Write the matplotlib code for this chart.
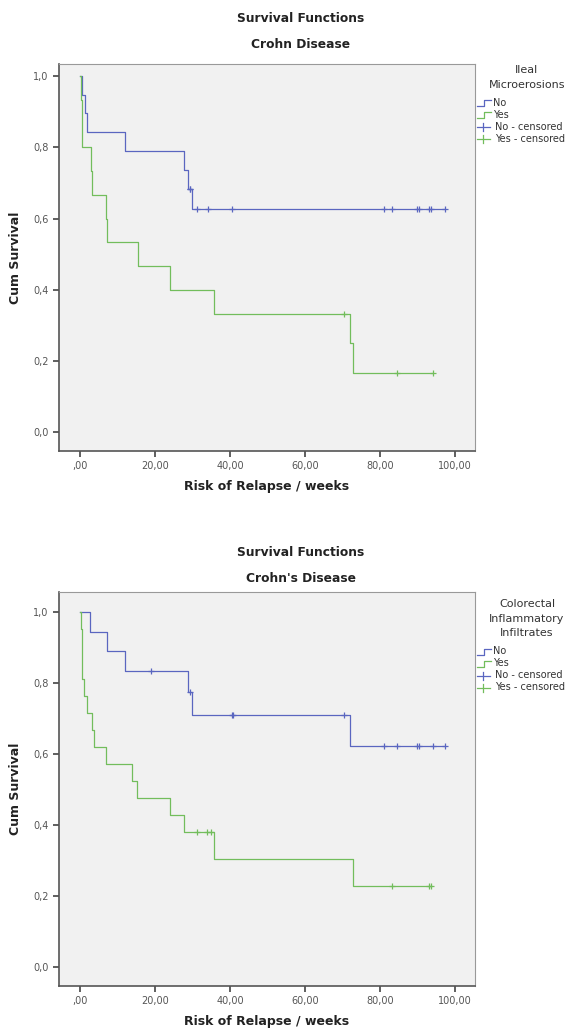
import matplotlib
matplotlib.use("Agg")
import matplotlib.pyplot as plt
from matplotlib.lines import Line2D
from matplotlib.ticker import FixedLocator, FixedFormatter

plt.rcParams["font.family"] = ["DejaVu Sans"]

# ---------------------------------------------------------------------------
# Data (Kaplan-Meier steps, censor marks)
# ---------------------------------------------------------------------------

# Top panel: Ileal Microerosions
top_no_t = [0.0, 0.4, 1.3, 1.8, 12.0, 27.7, 28.9, 29.9, 97.3]
top_no_s = [1.0, 0.947, 0.895, 0.842, 0.789, 0.737, 0.684, 0.627, 0.627]
top_no_cens_t = [29.2, 29.4, 31.1, 34.1, 40.4, 81.1, 83.2, 89.9, 90.4, 93.1, 93.5, 97.3]
top_no_cens_s = [0.684, 0.684, 0.627, 0.627, 0.627, 0.627, 0.627, 0.627, 0.627, 0.627, 0.627, 0.627]

top_yes_t = [0.0, 0.2, 0.5, 2.8, 3.3, 6.8, 7.2, 15.4, 24.1, 35.8, 71.9, 72.7, 94.0]
top_yes_s = [1.0, 0.933, 0.8, 0.733, 0.667, 0.6, 0.533, 0.467, 0.4, 0.333, 0.25, 0.167, 0.167]
top_yes_cens_t = [70.5, 84.6, 94.0]
top_yes_cens_s = [0.333, 0.167, 0.167]

# Bottom panel: Colorectal Inflammatory Infiltrates
bot_no_t = [0.0, 2.7, 7.2, 12.0, 28.9, 29.9, 72.0, 97.3]
bot_no_s = [1.0, 0.944, 0.889, 0.833, 0.774, 0.709, 0.621, 0.621]
bot_no_cens_t = [18.9, 29.3, 40.4, 40.9, 70.4, 81.1, 84.6, 89.9, 90.4, 94.0, 97.3]
bot_no_cens_s = [0.833, 0.774, 0.709, 0.709, 0.709, 0.621, 0.621, 0.621, 0.621, 0.621, 0.621]

bot_yes_t = [0.0, 0.2, 0.4, 1.0, 1.8, 3.3, 3.8, 6.8, 13.9, 15.3, 24.1, 27.7, 35.7, 72.7, 93.5]
bot_yes_s = [1.0, 0.952, 0.810, 0.762, 0.714, 0.667, 0.619, 0.571, 0.524, 0.476, 0.429,
             0.381, 0.305, 0.229, 0.229]
bot_yes_cens_t = [31.1, 33.8, 34.8, 83.3, 93.1, 93.5]
bot_yes_cens_s = [0.381, 0.381, 0.381, 0.229, 0.229, 0.229]

x_ticks = [0, 20, 40, 60, 80, 100]
x_tick_labels = [",00", "20,00", "40,00", "60,00", "80,00", "100,00"]
y_ticks = [0.0, 0.2, 0.4, 0.6, 0.8, 1.0]
y_tick_labels = ["0,0", "0,2", "0,4", "0,6", "0,8", "1,0"]

BLUE = "#5a66c0"
GREEN = "#72bd5c"
W, H = 580, 1034


def _fig_rect(left, top, right, bottom):
    """Pixel box -> figure fraction rect."""
    return [left / W, 1 - bottom / H, (right - left) / W, (bottom - top) / H]


def draw_panel(fig, box, ylim, title, subtitle, title_y, legend_title, legend_top, curves):
    ax = fig.add_axes(_fig_rect(*box))
    ax.set_facecolor("#f1f1f1")
    for t, s, ct, cs, color in curves:
        ax.step(t, s, where="post", color=color, linewidth=0.9)
        ax.plot(ct, cs, linestyle="none", marker="+", markersize=5,
                markeredgewidth=0.9, color=color)

    ax.set_xlim(-5.6, 105.3)
    ax.set_ylim(*ylim)
    ax.xaxis.set_major_locator(FixedLocator(x_ticks))
    ax.xaxis.set_major_formatter(FixedFormatter(x_tick_labels))
    ax.yaxis.set_major_locator(FixedLocator(y_ticks))
    ax.yaxis.set_major_formatter(FixedFormatter(y_tick_labels))
    ax.tick_params(direction="out", length=4, width=1.2, color="#444",
                   labelsize=7, labelcolor="#555")
    for side, spine in ax.spines.items():
        spine.set_color("#555" if side in ("left", "bottom") else "#999")
        spine.set_linewidth(1.2 if side in ("left", "bottom") else 0.8)

    ax.set_xlabel("Risk of Relapse / weeks", fontsize=9, fontweight="bold",
                  color="#222", labelpad=6)
    ax.set_ylabel("Cum Survival", fontsize=9, fontweight="bold",
                  color="#222", labelpad=8)

    fig.text(301 / W, 1 - title_y / H, title, ha="center", va="center",
             fontsize=8.8, fontweight="bold", color="#222")
    fig.text(301 / W, 1 - (title_y + 27) / H, subtitle, ha="center", va="center",
             fontsize=8.8, fontweight="bold", color="#222")

    # legend drawn in a pixel-coordinate overlay axes
    lg = fig.add_axes(_fig_rect(476, legend_top - 10, 580, legend_top + 110))
    lg.set_xlim(476, 580)
    lg.set_ylim(legend_top + 110, legend_top - 10)
    lg.axis("off")
    y = legend_top
    for line in legend_title:
        lg.text(527, y, line, ha="center", va="center", fontsize=8, color="#333")
        y += 14.5
    y += 4
    for label, color in (("No", BLUE), ("Yes", GREEN)):
        lg.add_line(Line2D([477, 484, 484, 491], [y + 3, y + 3, y - 3, y - 3],
                           color=color, linewidth=0.9))
        lg.text(493, y, label, ha="left", va="center", fontsize=7, color="#333")
        y += 12
    for label, color in (("No - censored", BLUE), ("Yes - censored", GREEN)):
        lg.add_line(Line2D([477, 490], [y, y], color=color, linewidth=0.9))
        lg.add_line(Line2D([483.5, 483.5], [y - 4, y + 4], color=color, linewidth=0.9))
        lg.text(495, y, label, ha="left", va="center", fontsize=7, color="#333")
        y += 12
    return ax


fig = plt.figure(figsize=(W / 100, H / 100), dpi=100)

draw_panel(
    fig, (59, 64, 475, 451), (-0.053, 1.034),
    "Survival Functions", "Crohn Disease", 18,
    ["Ileal", "Microerosions"], 70,
    [(top_no_t, top_no_s, top_no_cens_t, top_no_cens_s, BLUE),
     (top_yes_t, top_yes_s, top_yes_cens_t, top_yes_cens_s, GREEN)],
)

draw_panel(
    fig, (59, 592, 475, 986), (-0.054, 1.056),
    "Survival Functions", "Crohn's Disease", 552,
    ["Colorectal", "Inflammatory", "Infiltrates"], 604,
    [(bot_no_t, bot_no_s, bot_no_cens_t, bot_no_cens_s, BLUE),
     (bot_yes_t, bot_yes_s, bot_yes_cens_t, bot_yes_cens_s, GREEN)],
)

fig.savefig("out.png", dpi=100)
